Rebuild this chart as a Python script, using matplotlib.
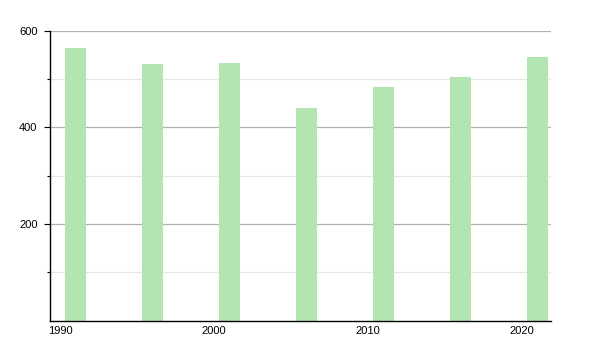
import matplotlib
matplotlib.use("Agg")
import matplotlib.pyplot as plt
from matplotlib.ticker import MultipleLocator, FixedLocator

plt.rcParams['font.family'] = ['Liberation Sans', 'DejaVu Sans']

years = [1991, 1996, 2001, 2006, 2011, 2016, 2021]
values = [564, 531, 533, 440, 483, 504, 545]
x_ticks = [1990, 2000, 2010, 2020]
y_ticks = [200, 400, 600]

fig = plt.figure(figsize=(6, 3.5), dpi=100)
ax = fig.add_axes([50/600, 1 - 320.5/350, (550.7 - 50)/600, (320.5 - 30.7)/350])

ax.bar(years, values, width=1.34, color='#b3e5b1', zorder=2)

ax.set_xlim(1989.35, 2021.86)
ax.set_ylim(0, 600)

ax.yaxis.set_major_locator(FixedLocator(y_ticks))
ax.yaxis.set_minor_locator(FixedLocator([100, 300, 500]))
ax.xaxis.set_major_locator(FixedLocator(x_ticks))

ax.grid(axis='y', which='major', color='#b0b0b0', linewidth=0.9, zorder=0)
ax.grid(axis='y', which='minor', color='#e6e6e6', linewidth=0.9, zorder=0)

for s in ['top', 'right']:
    ax.spines[s].set_visible(False)
ax.spines['left'].set_color('black')
ax.spines['bottom'].set_color('black')
ax.spines['left'].set_linewidth(1.0)
ax.spines['bottom'].set_linewidth(1.0)

ax.tick_params(axis='y', which='major', length=4, width=0.8, pad=5, labelsize=8, colors='black')
ax.tick_params(axis='y', which='minor', length=2, width=0.8)
ax.tick_params(axis='x', which='major', length=0, pad=4, labelsize=8, colors='black')

fig.savefig('out.png', dpi=100)
